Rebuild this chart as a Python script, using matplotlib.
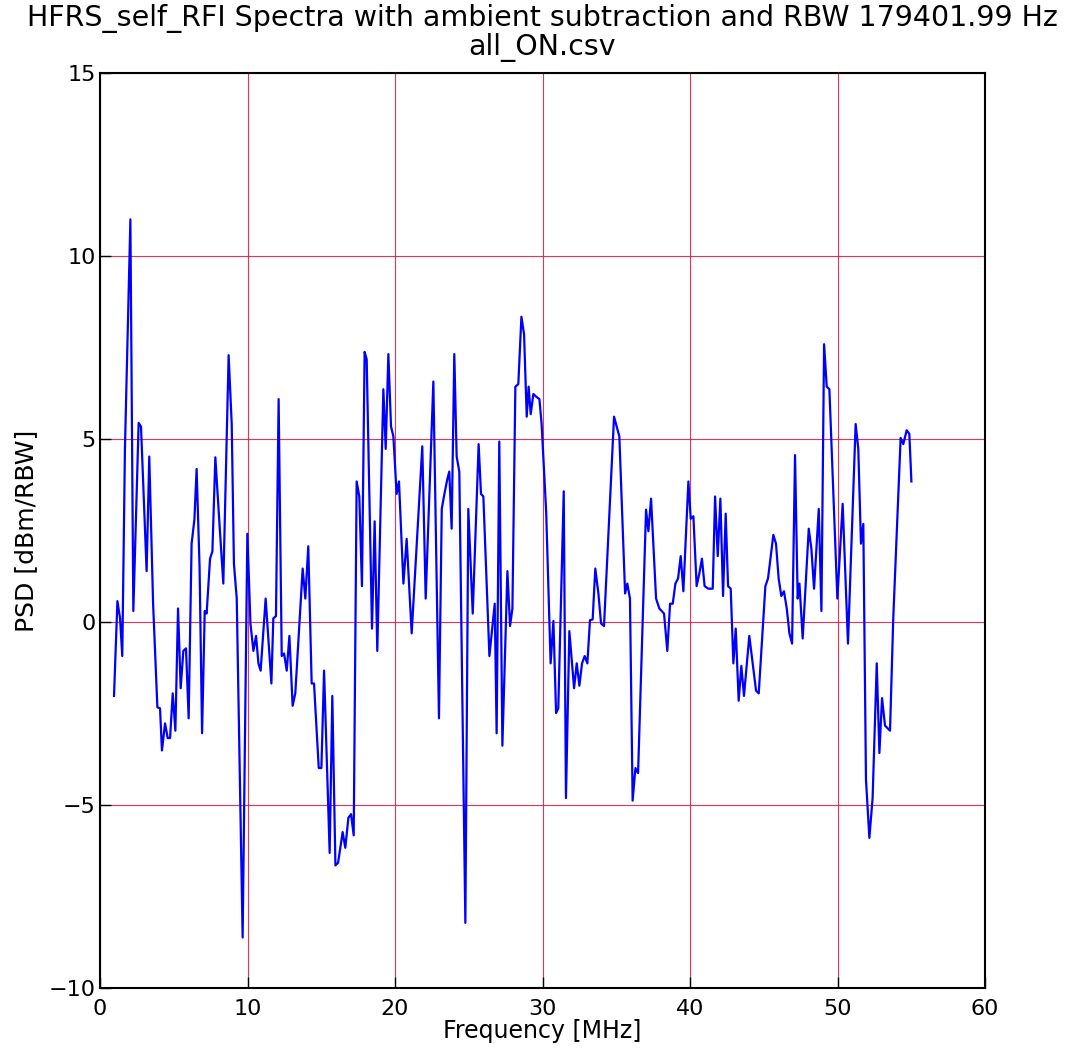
import matplotlib
matplotlib.use("Agg")
import matplotlib.pyplot as plt

freq_mhz = [
    0.95, 1.18, 1.36, 1.51, 1.69, 2.06, 2.26, 2.62, 2.78, 3.16, 3.34, 3.60, 3.89, 4.07, 4.20,
    4.41, 4.59, 4.75, 4.93, 5.11, 5.29, 5.47, 5.65, 5.83, 6.01, 6.21, 6.40, 6.55, 6.75, 6.92,
    7.10, 7.23, 7.46, 7.62, 7.82, 8.05, 8.36, 8.72, 8.93, 9.08, 9.27, 9.67, 9.99, 10.20, 10.40,
    10.58, 10.74, 10.89, 11.23, 11.62, 11.75, 11.93, 12.11, 12.32, 12.48, 12.66, 12.84, 13.06, 13.24, 13.74,
    13.92, 14.12, 14.35, 14.51, 14.83, 15.01, 15.19, 15.57, 15.75, 15.96, 16.14, 16.45, 16.63, 16.84, 17.02,
    17.20, 17.40, 17.58, 17.76, 17.94, 18.08, 18.44, 18.62, 18.80, 19.21, 19.37, 19.55, 19.73, 19.89, 20.11,
    20.27, 20.57, 20.79, 21.13, 21.85, 22.08, 22.60, 22.98, 23.17, 23.35, 23.55, 23.68, 23.84, 24.02, 24.18,
    24.36, 24.77, 24.97, 25.27, 25.67, 25.83, 25.99, 26.40, 26.76, 26.89, 27.07, 27.28, 27.62, 27.80, 27.96,
    28.16, 28.36, 28.57, 28.75, 28.93, 29.06, 29.20, 29.38, 29.56, 29.79, 29.94, 30.25, 30.55, 30.74, 30.92,
    31.07, 31.44, 31.59, 31.82, 32.14, 32.32, 32.50, 32.68, 32.86, 33.04, 33.22, 33.40, 33.58, 33.79, 33.97,
    34.17, 34.85, 35.03, 35.21, 35.60, 35.75, 35.93, 36.11, 36.30, 36.48, 37.02, 37.18, 37.36, 37.70, 37.92,
    38.24, 38.46, 38.65, 38.83, 39.01, 39.19, 39.37, 39.55, 39.89, 40.05, 40.23, 40.45, 40.63, 40.81, 40.99,
    41.24, 41.54, 41.70, 41.88, 42.06, 42.24, 42.42, 42.58, 42.76, 42.94, 43.10, 43.30, 43.48, 43.66, 44.02,
    44.48, 44.66, 45.11, 45.29, 45.65, 45.83, 46.01, 46.19, 46.37, 46.56, 46.74, 46.92, 47.12, 47.30, 47.42,
    47.64, 48.05, 48.23, 48.41, 48.73, 48.91, 49.09, 49.27, 49.45, 49.99, 50.35, 50.71, 51.23, 51.41, 51.59,
    51.75, 51.93, 52.16, 52.38, 52.66, 52.84, 53.02, 53.22, 53.56, 53.78, 54.28, 54.46, 54.69, 54.87, 55.01,
]

psd_dbm = [
    -2.02, 0.57, 0.10, -0.93, 4.73, 11.00, 0.30, 5.44, 5.34, 1.39, 4.52, 0.50, -2.33, -2.36, -3.51,
    -2.77, -3.17, -3.17, -1.95, -2.97, 0.37, -1.81, -0.79, -0.72, -2.63, 2.14, 2.80, 4.18, 1.50, -3.04,
    0.30, 0.23, 1.73, 1.93, 4.50, 3.00, 1.05, 7.29, 5.41, 1.59, 0.64, -8.62, 2.41, -0.04, -0.79,
    -0.38, -1.13, -1.33, 0.64, -1.68, 0.10, 0.16, 6.09, -0.93, -0.86, -1.33, -0.38, -2.29, -1.95, 1.46,
    0.64, 2.07, -1.68, -1.68, -3.99, -3.99, -1.33, -6.31, -2.02, -6.65, -6.58, -5.74, -6.17, -5.35, -5.25,
    -5.83, 3.84, 3.43, 0.98, 7.38, 7.18, -0.18, 2.75, -0.79, 6.36, 4.73, 7.32, 5.34, 5.07, 3.50,
    3.84, 1.05, 2.27, -0.31, 4.80, 0.64, 6.57, -2.63, 3.09, 3.50, 3.91, 4.11, 2.55, 7.32, 4.52,
    4.11, -8.22, 3.09, 0.23, 4.86, 3.50, 3.43, -0.93, 0.50, -3.04, 4.93, -3.38, 1.39, -0.11, 0.37,
    6.43, 6.50, 8.34, 7.86, 5.61, 6.43, 5.68, 6.23, 6.16, 6.09, 5.41, 3.00, -1.13, 0.03, -2.49,
    -2.36, 3.57, -4.81, -0.25, -1.81, -1.13, -1.74, -1.13, -0.93, -1.13, 0.05, 0.07, 1.46, 0.78, -0.04,
    -0.11, 5.61, 5.34, 5.07, 0.78, 1.05, 0.64, -4.88, -3.99, -4.13, 3.07, 2.48, 3.37, 0.64, 0.37,
    0.23, -0.79, 0.50, 0.50, 1.05, 1.19, 1.80, 0.84, 3.84, 2.82, 2.89, 0.98, 1.32, 1.73, 0.98,
    0.91, 0.91, 3.43, 1.80, 3.37, 0.71, 2.96, 0.98, 0.91, -1.13, -0.18, -2.15, -1.20, -2.02, -0.38,
    -1.88, -1.95, 0.98, 1.19, 2.38, 2.14, 1.19, 0.71, 0.84, 0.37, -0.31, -0.59, 4.56, 0.64, 1.05,
    -0.45, 2.55, 2.00, 0.91, 3.09, 0.30, 7.59, 6.43, 6.36, 0.64, 3.23, -0.59, 5.41, 4.73, 2.14,
    2.68, -4.30, -5.90, -4.81, -1.13, -3.58, -2.08, -2.83, -2.97, 0.10, 5.03, 4.86, 5.24, 5.14, 3.84,
]

x_ticks = [0, 10, 20, 30, 40, 50, 60]
y_ticks = [-10, -5, 0, 5, 10, 15]

title_text = "HFRS_self_RFI Spectra with ambient subtraction and RBW 179401.99 Hz\nall_ON.csv"
x_label = "Frequency [MHz]"
y_label = "PSD [dBm/RBW]"

fig = plt.figure(figsize=(10.77, 10.5), dpi=100)
ax = fig.add_axes([100 / 1077, 1 - 988 / 1050, 885 / 1077, 915 / 1050])

ax.plot(freq_mhz, psd_dbm, color="blue", linewidth=1.6, zorder=3)

ax.set_xlim(0, 60)
ax.set_ylim(-10, 15)
ax.set_xticks(x_ticks)
ax.set_yticks(y_ticks)
ax.grid(True, color="#e0103a", linewidth=0.8, alpha=0.85, zorder=1)
ax.tick_params(direction="in", length=8, width=1, labelsize=16,
               top=False, right=False)
ax.tick_params(axis="y", pad=3)
ax.tick_params(axis="x", pad=8)
for sp in ax.spines.values():
    sp.set_linewidth(1.5)

ax.set_xlabel(x_label, fontsize=17, labelpad=0)
ax.set_ylabel(y_label, fontsize=18, labelpad=8)
ax.set_title(title_text, fontsize=20.5, pad=13, linespacing=1.0)

fig.savefig("out.png", dpi=100)
